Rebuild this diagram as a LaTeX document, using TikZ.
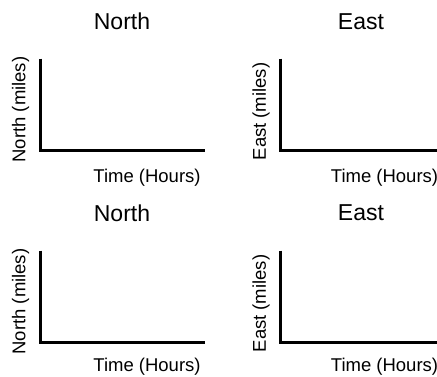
\documentclass[tikz,border=0pt]{standalone}
\usepackage{fontspec}
\setmainfont{Liberation Sans}
\usepackage{tikz}
\usetikzlibrary{positioning}

\begin{document}
\begin{tikzpicture}[x=1pt, y=1pt,
  axis/.style={line width=3pt},
  ttl/.style={font=\fontsize{23}{27}\selectfont, inner sep=0pt},
  lab/.style={font=\fontsize{18.5}{22}\selectfont, inner sep=0pt}]
  \useasboundingbox (0,0) rectangle (437,376);
  % top left
  \coordinate (o1) at (40.5,225.5);
  \coordinate [above=92pt of o1] (y1);
  \coordinate [right=164.5pt of o1] (x1);
  \draw [axis] (y1) |- (x1);
  \node [ttl] (t1) at ([shift={(81.5,129)}]o1) {North};
  \node [lab, rotate=90] (v1) at ([shift={(-20,41)}]o1) {North (miles)};
  \node [lab] (h1) at ([shift={(106.5,-27.5)}]o1) {Time (Hours)};
  % top right
  \coordinate (o2) at (280,225.5);
  \coordinate [above=92pt of o2] (y2);
  \coordinate [right=157pt of o2] (x2);
  \draw [axis] (y2) |- (x2);
  \node [ttl] (t2) at ([shift={(81,129)}]o2) {East};
  \node [lab, rotate=90] (v2) at ([shift={(-19,39)}]o2) {East (miles)};
  \node [lab] (h2) at ([shift={(104.5,-27.5)}]o2) {Time (Hours)};
  % bottom left
  \coordinate (o3) at (40.5,33.5);
  \coordinate [above=92pt of o3] (y3);
  \coordinate [right=164.5pt of o3] (x3);
  \draw [axis] (y3) |- (x3);
  \node [ttl] (t3) at ([shift={(81.5,129.5)}]o3) {North};
  \node [lab, rotate=90] (v3) at ([shift={(-20,41)}]o3) {North (miles)};
  \node [lab] (h3) at ([shift={(106.5,-24.5)}]o3) {Time (Hours)};
  % bottom right
  \coordinate (o4) at (280,33.5);
  \coordinate [above=92pt of o4] (y4);
  \coordinate [right=157pt of o4] (x4);
  \draw [axis] (y4) |- (x4);
  \node [ttl] (t4) at ([shift={(81,129.5)}]o4) {East};
  \node [lab, rotate=90] (v4) at ([shift={(-19,39)}]o4) {East (miles)};
  \node [lab] (h4) at ([shift={(104.5,-24.5)}]o4) {Time (Hours)};
\end{tikzpicture}
\end{document}
